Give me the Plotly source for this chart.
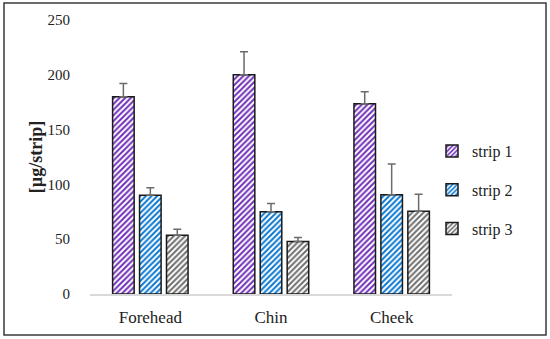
import plotly.graph_objects as go

categories = ["Forehead", "Chin", "Cheek"]
series_names = ["strip 1", "strip 2", "strip 3"]
strip1 = [180, 200, 173.5]
strip2 = [90, 75, 90.5]
strip3 = [53.5, 48, 75.5]
err1 = [12, 21, 11]
err2 = [7, 7.5, 28]
err3 = [5.5, 3.5, 15.5]
y_ticks = [0, 50, 100, 150, 200, 250]

colors = ["#7030b8", "#0a78d0", "#6e6e6e"]
values = [strip1, strip2, strip3]
errors = [err1, err2, err3]

FONT = "Liberation Serif, DejaVu Serif, serif"

fig = go.Figure()
for i in range(3):
    fig.add_trace(go.Bar(
        x=categories, y=values[i], name=series_names[i],
        legendgroup=series_names[i],
        marker=dict(
            color="white",
            line=dict(color="#1a1a1a", width=1.5),
            pattern=dict(shape="/", fgcolor=colors[i], bgcolor="white",
                         size=4, solidity=0.5, fillmode="replace", fgopacity=1),
        ),
        error_y=dict(type="data", array=errors[i], arrayminus=[0, 0, 0],
                     symmetric=False, color="#6b6b6b", thickness=1.5, width=4),
    ))

L, R, T, B = 90, 98, 20, 45
PW, PH = 550 - L - R, 339 - T - B

fig.update_layout(
    width=550, height=339,
    margin=dict(l=L, r=R, t=T, b=B, autoexpand=False),
    paper_bgcolor="white", plot_bgcolor="white",
    barmode="group", bargap=0.33, bargroupgap=0.2,
    font=dict(family=FONT, size=15, color="#222222"),
    showlegend=True,
    legend=dict(x=(432 - L) / PW, y=(294 - 190) / PH, xanchor="left", yanchor="middle",
                traceorder="grouped", tracegroupgap=15, bgcolor="rgba(0,0,0,0)",
                font=dict(family=FONT, size=16, color="#222222"),
                itemwidth=30),
    xaxis=dict(showline=True, linecolor="#d9d9d9", linewidth=1.5,
               ticks="outside", ticklen=7, tickcolor="rgba(0,0,0,0)",
               showgrid=False, tickfont=dict(size=17)),
    yaxis=dict(range=[0, 250], tickvals=y_ticks, showgrid=False,
               showline=False, zeroline=False,
               ticks="outside", ticklen=16, tickcolor="rgba(0,0,0,0)",
               tickfont=dict(size=15),
               title=dict(text="<b>[µg/strip]</b>", font=dict(size=18), standoff=0)),
    shapes=[dict(type="rect", xref="paper", yref="paper",
                 x0=(4 - L) / PW, x1=(546 - L) / PW,
                 y0=(294 - 335) / PH, y1=(294 - 3) / PH,
                 line=dict(color="#3a3a3a", width=1.5), layer="above")],
)

fig.write_html("out.html", config={"displayModeBar": False},
               post_script="document.body.style.margin='0';document.body.style.overflow='hidden';")
